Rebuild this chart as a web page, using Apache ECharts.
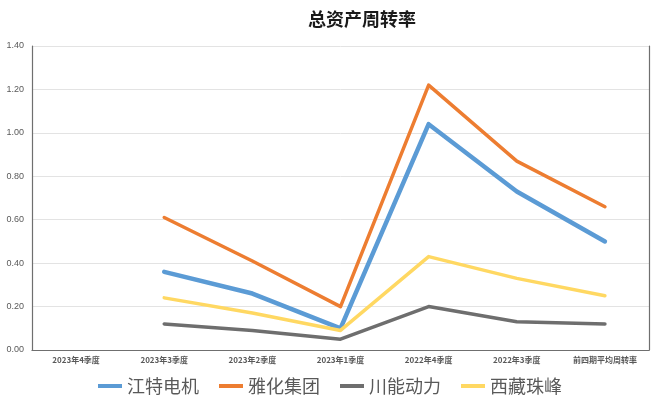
<!DOCTYPE html>
<html>
<head>
<meta charset="utf-8">
<script src="https://cdn.jsdelivr.net/npm/echarts@6/dist/echarts.min.js"></script>
<style>
html, body { margin: 0; padding: 0; background: #fff; }
#chart { width: 660px; height: 400px; }
</style>
</head>
<body>
<div id="chart"></div>
<script>
// 总资产周转率 数据
const categories = ['2023年4季度', '2023年3季度', '2023年2季度', '2023年1季度', '2022年4季度', '2022年3季度', '前四期平均周转率'];
const jiangte = [null, 0.36, 0.26, 0.10, 1.04, 0.73, 0.50];   // 江特电机
const yahua = [null, 0.61, 0.41, 0.20, 1.22, 0.87, 0.66];     // 雅化集团
const chuanneng = [null, 0.12, 0.09, 0.05, 0.20, 0.13, 0.12]; // 川能动力
const xizang = [null, 0.24, 0.17, 0.09, 0.43, 0.33, 0.25];    // 西藏珠峰

const names = ['江特电机', '雅化集团', '川能动力', '西藏珠峰'];
const colors = ['#5B9BD5', '#ED7D31', '#6E6E6E', '#FFD862'];
const widths = [4.5, 3.5, 3.5, 3.5];
const values = [jiangte, yahua, chuanneng, xizang];

const cjk = '"Noto Sans CJK SC", "Noto Sans", sans-serif';
const borderLine = { show: true, lineStyle: { color: '#6f6f6f', width: 1.2 } };

const chart = echarts.init(document.getElementById('chart'));
chart.setOption({
    animation: false,
    title: {
        text: '总资产周转率',
        left: 303,
        top: 5,
        textStyle: { fontFamily: cjk, fontSize: 18, fontWeight: 'bold', color: '#1a1a1a' }
    },
    legend: {
        bottom: 0,
        left: 'center',
        icon: 'rect',
        itemWidth: 24,
        itemHeight: 4,
        itemGap: 20,
        textStyle: { fontFamily: cjk, fontSize: 18, color: '#595959' },
        data: names
    },
    grid: { left: 32, right: 11, top: 46, bottom: 50, containLabel: false },
    xAxis: [{
        type: 'category',
        data: categories,
        boundaryGap: true,
        axisLine: { lineStyle: { color: '#d9d9d9' } },
        axisTick: { show: false },
        axisLabel: { interval: 0, fontFamily: cjk, fontSize: 8, fontWeight: 'bold', color: '#595959', margin: 6 }
    }, {
        type: 'category',
        position: 'top',
        data: categories,
        z: 1,
        axisLine: borderLine,
        axisTick: { show: false },
        axisLabel: { show: false }
    }],
    yAxis: [{
        type: 'value',
        min: 0,
        max: 1.4,
        interval: 0.2,
        axisLine: borderLine,
        axisTick: { show: false },
        splitLine: { lineStyle: { color: '#e3e3e3' } },
        axisLabel: {
            fontFamily: '"Liberation Sans", sans-serif', fontSize: 9, color: '#595959', margin: 8,
            formatter: v => v.toFixed(2)
        }
    }, {
        type: 'value',
        position: 'right',
        min: 0,
        max: 1.4,
        interval: 0.2,
        z: 1,
        axisLine: borderLine,
        axisTick: { show: false },
        axisLabel: { show: false },
        splitLine: { show: false }
    }],
    series: names.map((name, i) => ({
        name: name,
        type: 'line',
        data: values[i],
        showSymbol: false,
        symbol: 'none',
        color: colors[i],
        lineStyle: { width: widths[i], color: colors[i], cap: 'round', join: 'round' }
    }))
});
</script>
</body>
</html>
